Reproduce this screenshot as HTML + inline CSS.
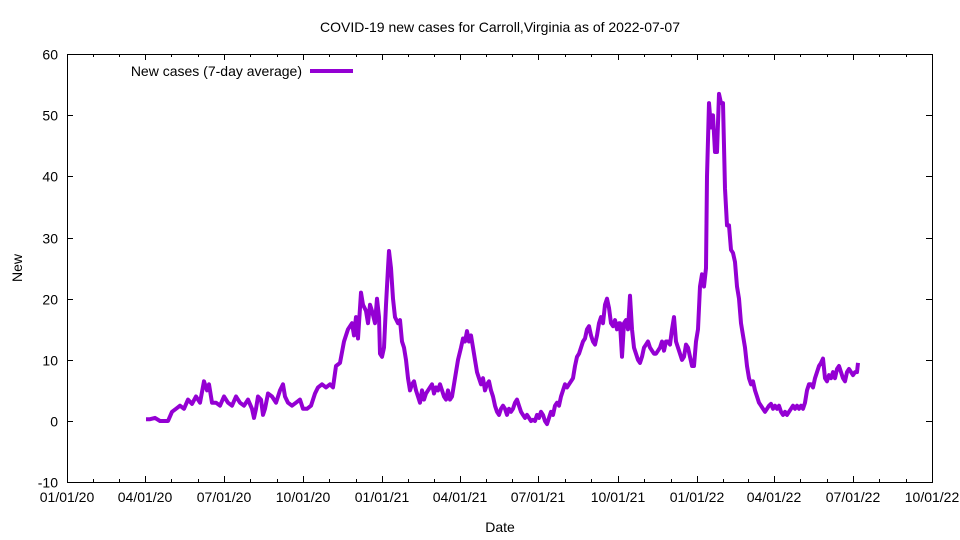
<!DOCTYPE html>
<html><head><meta charset="utf-8"><style>body{margin:0;background:#fff}svg{display:block;font-family:"Liberation Sans",sans-serif}</style></head><body>
<svg id="s" width="960" height="540" xmlns="http://www.w3.org/2000/svg">
<rect width="960" height="540" fill="#fff"/>
<text x="500" y="32" font-size="14" text-anchor="middle">COVID-19 new cases for Carroll,Virginia as of 2022-07-07</text>
<g id="ax" stroke="#000" stroke-width="1" fill="none"></g>
<g id="lab" font-size="14"></g>
<text x="500" y="532" font-size="14" text-anchor="middle">Date</text>
<text transform="translate(22,268) rotate(-90)" font-size="14" text-anchor="middle">New</text>
<text x="302" y="76" font-size="14" text-anchor="end">New cases (7-day average)</text>
<line x1="310" y1="71" x2="353" y2="71" stroke="#9400d3" stroke-width="4"/>
<path id="p" fill="none" stroke="#9400d3" stroke-width="4" stroke-linejoin="round"/>
</svg>
<script>
var L=67,R=932,T=54,B=482;
function Y(v){return 421-v*6.114;}
var ax=document.getElementById('ax'),lab=document.getElementById('lab'),ns="http://www.w3.org/2000/svg";
function el(p,t,a,txt){var e=document.createElementNS(ns,t);for(var k in a)e.setAttribute(k,a[k]);if(txt)e.textContent=txt;p.appendChild(e);}
el(ax,'rect',{x:L+0.5,y:T+0.5,width:R-L,height:B-T});
for(var v=-10;v<=60;v+=10){var y=Math.round(Y(v))+0.5;el(ax,'line',{x1:L,y1:y,x2:L+6,y2:y});el(ax,'line',{x1:R-6,y1:y,x2:R,y2:y});el(lab,'text',{x:58,y:y+5,'text-anchor':'end'},String(v));}
var xs=[67,145,224,303,382,460,538,618,697,774,853,932],nm=["01/01/20","04/01/20","07/01/20","10/01/20","01/01/21","04/01/21","07/01/21","10/01/21","01/01/22","04/01/22","07/01/22","10/01/22"];
for(var i=0;i<xs.length;i++){var x=xs[i]+0.5;el(ax,'line',{x1:x,y1:B,x2:x,y2:B-6});el(ax,'line',{x1:x,y1:T,x2:x,y2:T+6});el(lab,'text',{x:xs[i],y:502,'text-anchor':'middle'},nm[i]);
 if(i<xs.length-1){var m=xs[i]+(xs[i+1]-xs[i])/3,n=xs[i]+2*(xs[i+1]-xs[i])/3;[m,n].forEach(function(q){q=Math.round(q)+0.5;el(ax,'line',{x1:q,y1:B,x2:q,y2:B-3});el(ax,'line',{x1:q,y1:T,x2:q,y2:T+3});});}}
var d="146:0.3,150:0.3,155:0.5,160:0,168:0,172:1.5,176:2,180:2.5,184:2,188:3.5,192:2.8,196:4,200:3,204:6.5,207:5,209:6,212:3,216:3,220:2.5,224:4,228:3,232:2.5,236:4,240:3,244:2.5,248:3.5,252:2,254:0.5,256:2,258:4,261:3.5,263:1,265:2,268:4.5,272:4,276:3,280:5,283:6,285:4,288:3,292:2.5,296:3,300:3.5,303:2,307:2,311:2.5,315:4.5,318:5.5,322:6,326:5.5,330:6,333:5.5,336:9,340:9.5,344:13,348:15,352:16,354:14,356:17,358:13.5,361:21,363:19,366:18,368:16,370:19,372:18,375:16,377:20,379:17,380:11,382:10.5,384:12,386:19,388:25,389:27.8,391:25,393:20,395:17,398:16,400:16.5,402:13,404:12,406:10,408:7,410:5,412:6,414:6.5,416:5,418:4,420:3,422:5,424:3.5,426:4.5,428:5,430:5.5,432:6,434:4.5,436:5.5,438:5,440:6,442:5,444:4,446:3.5,448:5,450:3.5,452:4,454:6,456:8,458:10,461:12,463:13.5,465:13,467:14.7,469:13,471:14,473:12,475:10,477:8,479:7,481:6,483:7,485:5,487:6,489:6.5,491:5,493:4,495:2.5,497:1.5,499:1,501:2,503:2.5,505:2,507:1,509:2,511:1.5,513:2,515:3,517:3.5,519:2.5,521:1.5,523:1,525:0.5,527:1,529:0.5,531:0,533:0.2,535:0,537:1,539:0.5,541:1.5,543:1,545:0,547:-0.5,549:0.5,551:1.5,553:1,555:2.5,557:3,559:2.5,561:4,563:5,565:6,567:5.5,569:6,571:6.5,573:7,575:9,577:10.5,579:11,581:12,583:13,585:13.5,587:15,589:15.5,591:14,593:13,595:12.5,597:14,599:16,601:17,603:16,605:19,607:20,609:18.5,611:16,613:15.5,615:16.5,617:15,619:16,620:16,622:10.5,624:16,626:16.5,628:15,630:20.5,632:15,634:12,636:11,638:10,640:9.5,642:10.5,644:12,646:12.5,648:13,650:12,652:11.5,654:11,656:11,658:11.5,660:12,662:13,664:11.5,666:13,668:13,670:12.5,672:15,674:17,676:13,678:12,680:11,682:10,684:10.5,686:12.5,688:12,690:10.5,692:9,694:9,696:13,698:15,700:22,702:24,704:22,706:25,707:40,709:52,711:48,713:50,715:44,717:44,719:53.5,721:52,723:52,725:38,727:32,729:32,731:28,733:27.5,735:26,737:22,739:20,741:16,743:14,745:12,747:9,749:7,751:6,753:6.5,755:5,757:4,759:3,761:2.5,763:2,765:1.5,767:2,769:2.5,771:2.8,773:2,775:2.5,777:2,779:2.5,781:1.5,783:1,785:1.5,787:1,789:1.5,791:2,793:2.5,795:2,797:2.5,799:2,801:2.5,803:2,805:3,807:5,809:6,811:6,813:5.5,815:7,817:8,819:9,821:9.5,823:10.2,825:7,827:6.5,829:7.5,831:7,833:8,835:7,837:8.5,839:9,841:8,843:7,845:6.5,847:8,849:8.5,851:8,853:7.5,855:8,857:8,858:9.5";
var pts=d.split(',').map(function(s){var a=s.split(':');return a[0]+','+Y(+a[1]).toFixed(1);});
document.getElementById('p').setAttribute('d','M'+pts.join('L'));
</script>
</body></html>
